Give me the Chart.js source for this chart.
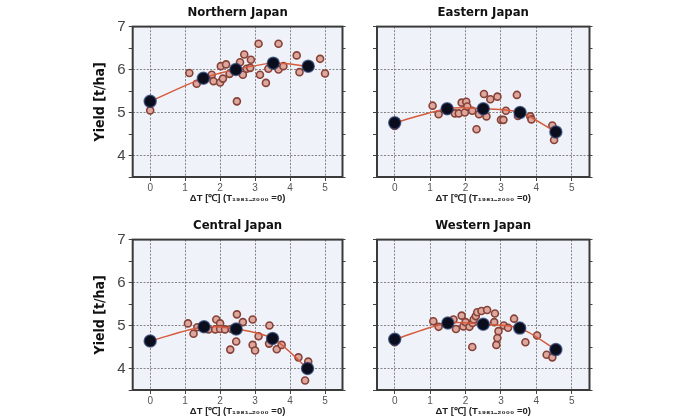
<!DOCTYPE html>
<html lang="en">
<head>
<meta charset="UTF-8" />
<title>Rice yield vs warming</title>
<style>
  body { margin: 0; background: #fff; width: 681px; height: 418px; position: relative; overflow: hidden; }
  .panel { position: absolute; }
</style>
</head>
<body>
  <div class="panel" style="left:88px; top:0px;"><canvas id="north" width="262" height="205"></canvas></div>
  <div class="panel" style="left:360px; top:0px;"><canvas id="east" width="237" height="205"></canvas></div>
  <div class="panel" style="left:88px; top:213px;"><canvas id="central" width="262" height="205"></canvas></div>
  <div class="panel" style="left:360px; top:213px;"><canvas id="west" width="237" height="205"></canvas></div>

  <script src="https://cdn.jsdelivr.net/npm/chart.js"></script>
  <script>
    const xTicks = [0, 1, 2, 3, 4, 5];
    const yTicks = [3.5, 4, 4.5, 5, 5.5, 6, 6.5, 7];

    // Northern Japan
    const northX = [0, 1.12, 1.33, 1.76, 1.81, 2.0, 2.02, 2.08, 2.17, 2.27, 2.48, 2.57, 2.65, 2.69, 2.76, 2.86, 2.88, 3.1, 3.14, 3.31, 3.38, 3.67, 3.67, 3.81, 4.19, 4.27, 4.86, 5.0];
    const northY = [5.05, 5.92, 5.67, 5.88, 5.73, 5.7, 6.08, 5.79, 6.12, 5.9, 5.26, 6.17, 5.88, 6.35, 6.02, 6.04, 6.23, 6.6, 5.88, 5.69, 6.02, 6.6, 6.0, 6.08, 6.33, 5.94, 6.25, 5.91];
    const northMeanX = [0, 1.52, 2.45, 3.52, 4.52];
    const northMeanY = [5.26, 5.8, 6.0, 6.15, 6.08];

    // Eastern Japan
    const eastX = [0, 1.07, 1.24, 1.7, 1.81, 1.89, 1.98, 2.02, 2.05, 2.19, 2.31, 2.38, 2.52, 2.59, 2.7, 2.9, 3.0, 3.07, 3.14, 3.45, 3.48, 3.83, 3.86, 4.45, 4.5];
    const eastY = [4.69, 5.16, 4.96, 4.98, 4.98, 5.23, 5.0, 5.25, 5.14, 5.04, 4.61, 4.96, 5.43, 4.91, 5.31, 5.37, 4.83, 4.83, 5.04, 5.41, 4.92, 4.91, 4.84, 4.7, 4.36];
    const eastMeanX = [0, 1.48, 2.5, 3.54, 4.55];
    const eastMeanY = [4.76, 5.09, 5.09, 5.0, 4.55];

    // Central Japan
    const centralX = [1.08, 1.24, 1.35, 1.67, 1.86, 1.89, 2.0, 2.0, 2.14, 2.29, 2.33, 2.46, 2.48, 2.65, 2.93, 2.93, 3.0, 3.1, 3.4, 3.41, 3.62, 3.76, 4.24, 4.43, 4.52];
    const centralY = [5.05, 4.81, 4.96, 4.91, 4.91, 5.14, 5.05, 4.92, 4.91, 4.44, 4.92, 4.63, 5.26, 5.08, 5.14, 4.55, 4.42, 4.75, 4.58, 5.0, 4.45, 4.55, 4.26, 3.72, 4.16];
    const centralMeanX = [0, 1.54, 2.46, 3.5, 4.5];
    const centralMeanY = [4.64, 4.97, 4.92, 4.7, 4.0];

    // Western Japan
    const westX = [0, 1.09, 1.24, 1.66, 1.73, 1.89, 1.94, 2.0, 2.11, 2.19, 2.2, 2.23, 2.29, 2.33, 2.45, 2.61, 2.81, 2.83, 2.87, 2.9, 2.93, 3.08, 3.2, 3.37, 3.69, 4.02, 4.29, 4.45];
    const westY = [4.61, 5.1, 4.97, 5.14, 4.92, 5.23, 4.98, 5.08, 4.97, 4.5, 5.06, 5.14, 5.22, 5.31, 5.34, 5.36, 5.08, 5.28, 4.55, 4.71, 4.87, 5.0, 4.95, 5.16, 4.61, 4.77, 4.32, 4.26];
    const westMeanX = [0, 1.5, 2.5, 3.53, 4.55];
    const westMeanY = [4.68, 5.06, 5.03, 4.94, 4.44];

    const gridColor = 'rgba(95, 95, 95, 0.75)';
    const xTitle = 'ΔT [℃] (T₁₉₈₁₋₂₀₀₀ =0)';
    const narrowFont = "'Liberation Sans Narrow', 'DejaVu Sans Condensed', 'Liberation Sans', Arial, sans-serif";

    Chart.defaults.font.family = "'Liberation Sans', Arial, sans-serif";
    Chart.defaults.animation = false;

    // light panel background + dark frame round the plot area
    const framePlugin = {
      id: 'frame',
      beforeDraw(chart) {
        const { ctx, chartArea: a } = chart;
        ctx.save();
        ctx.fillStyle = '#eff2f8';
        ctx.fillRect(a.left, a.top, a.width, a.height);
        ctx.restore();
      },
      beforeDatasetsDraw(chart) {
        const { ctx, chartArea: a } = chart;
        ctx.save();
        ctx.strokeStyle = '#3a3a3a';
        ctx.lineWidth = 2;
        ctx.strokeRect(a.left, a.top, a.width, a.height);
        ctx.restore();
      }
    };

    function pairs(xs, ys) {
      return xs.map((x, i) => ({ x: x, y: ys[i] }));
    }

    function makePanel(id, title, xs, ys, mx, my, showY) {
      new Chart(document.getElementById(id), {
        type: 'scatter',
        data: {
          datasets: [{
            label: 'years',
            data: pairs(xs, ys),
            pointRadius: 3.5,
            pointBorderWidth: 1.6,
            pointBackgroundColor: '#dea79d',
            pointBorderColor: '#874238',
            order: 2
          }, {
            label: 'mean',
            data: pairs(mx, my),
            showLine: true,
            tension: 0.3,
            borderColor: '#d65a3c',
            borderWidth: 1.5,
            pointRadius: 6,
            pointBorderWidth: 1.5,
            pointBackgroundColor: '#0a0e1c',
            pointBorderColor: 'rgba(40, 60, 110, 0.7)',
            order: 1
          }]
        },
        options: {
          responsive: false,
          layout: { padding: { left: 0, right: 3, top: 0, bottom: 0 } },
          plugins: {
            legend: { display: false },
            tooltip: { enabled: false },
            title: {
              display: true,
              text: title,
              fullSize: false,
              color: '#111',
              font: { size: 13, weight: 'bold', family: narrowFont },
              padding: { top: 5, bottom: 6 }
            }
          },
          scales: {
            x: {
              type: 'linear',
              min: -0.5,
              max: 5.5,
              afterBuildTicks: s => { s.ticks = xTicks.map(v => ({ value: v })); },
              afterFit: s => { s.height = 28; },
              ticks: { color: '#555', font: { size: 10 }, padding: 1 },
              grid: { color: gridColor, tickColor: '#444', tickLength: 4 },
              border: { display: false, dash: [2, 1.5] },
              title: {
                display: true,
                text: xTitle,
                color: '#222',
                font: { size: 9.5, weight: 'bold' },
                padding: { top: 0, bottom: 1 }
              }
            },
            y: {
              min: 3.5,
              max: 7,
              afterBuildTicks: s => { s.ticks = yTicks.map(v => ({ value: v })); },
              afterFit: s => { s.width = showY ? 44.7 : 17; },
              ticks: {
                display: showY,
                color: '#444',
                font: { size: 15 },
                padding: 3,
                callback: v => Number.isInteger(v) ? v : ''
              },
              grid: {
                color: c => (c.tick && Number.isInteger(c.tick.value)) ? gridColor : 'transparent',
                tickColor: '#444',
                tickLength: 4
              },
              border: { display: false, dash: [2, 1.5] },
              title: {
                display: showY,
                text: 'Yield [t/ha]',
                color: '#111',
                font: { size: 14, weight: 'bold', family: narrowFont },
                padding: { top: 4, bottom: 0 }
              }
            },
            y2: {
              position: 'right',
              min: 3.5,
              max: 7,
              afterBuildTicks: s => { s.ticks = yTicks.map(v => ({ value: v })); },
              afterFit: s => { s.width = 4; },
              ticks: { display: false },
              grid: { drawOnChartArea: false, tickColor: '#444', tickLength: 3 },
              border: { display: false }
            }
          }
        },
        plugins: [framePlugin]
      });
    }

    makePanel('north', 'Northern Japan', northX, northY, northMeanX, northMeanY, true);
    makePanel('east', 'Eastern Japan', eastX, eastY, eastMeanX, eastMeanY, false);
    makePanel('central', 'Central Japan', centralX, centralY, centralMeanX, centralMeanY, true);
    makePanel('west', 'Western Japan', westX, westY, westMeanX, westMeanY, false);
  </script>
</body>
</html>
